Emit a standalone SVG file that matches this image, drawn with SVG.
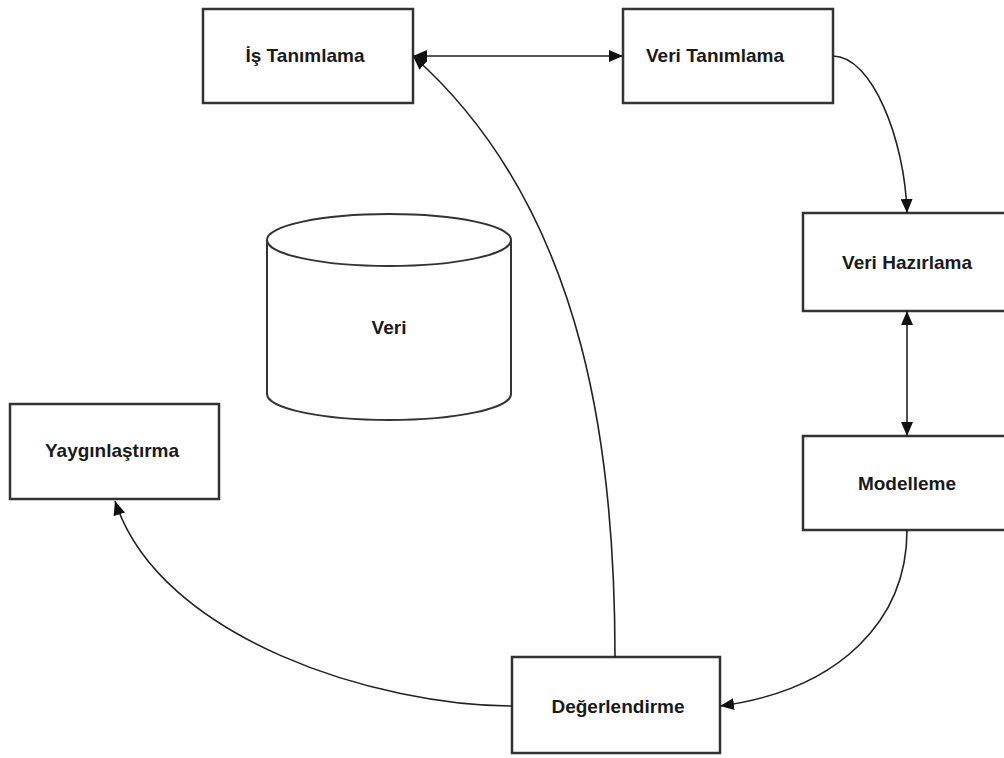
<svg xmlns="http://www.w3.org/2000/svg" width="1004" height="758" viewBox="0 0 1004 758">
  <style>
    .box { fill: #ffffff; stroke: #333333; stroke-width: 2.5; }
    .db { fill: #ffffff; stroke: #333333; stroke-width: 2; }
    .label { font-family: "Liberation Sans", Arial, sans-serif; font-weight: bold; font-size: 19px; fill: #1a1a1a; text-anchor: middle; dominant-baseline: central; }
    .link { fill: none; stroke: #222222; stroke-width: 1.6; }
  </style>
  <defs>
    <marker id="tip" viewBox="0 0 14 12" refX="14" refY="6" markerWidth="14" markerHeight="12" markerUnits="userSpaceOnUse" orient="auto-start-reverse">
      <path d="M0,0 L14,6 L0,12 Z" fill="#111111"/>
    </marker>
  </defs>

  <rect width="1004" height="758" fill="#ffffff"/>

  <g id="is-tanimlama">
    <rect class="box" x="203" y="9" width="210" height="94"/>
    <text class="label" x="305" y="55">İş Tanımlama</text>
  </g>

  <g id="veri-tanimlama">
    <rect class="box" x="623" y="9" width="210" height="94"/>
    <text class="label" x="715" y="55">Veri Tanımlama</text>
  </g>

  <g id="veri-hazirlama">
    <rect class="box" x="803" y="213" width="210" height="98"/>
    <text class="label" x="907" y="262">Veri Hazırlama</text>
  </g>

  <g id="modelleme">
    <rect class="box" x="803" y="436" width="210" height="94"/>
    <text class="label" x="907" y="483">Modelleme</text>
  </g>

  <g id="degerlendirme">
    <rect class="box" x="512" y="657" width="208" height="96"/>
    <text class="label" x="618" y="706">Değerlendirme</text>
  </g>

  <g id="yayginlastirma">
    <rect class="box" x="10" y="404" width="209" height="95"/>
    <text class="label" x="112" y="450">Yaygınlaştırma</text>
  </g>

  <g id="veri">
    <path class="db" d="M267,240 L267,394 A122,26 0 0 0 511,394 L511,240"/>
    <ellipse class="db" cx="389" cy="240" rx="122" ry="26"/>
    <text class="label" x="389" y="327">Veri</text>
  </g>

  <g id="connectors">
    <line class="link" x1="413" y1="56" x2="623" y2="56" marker-start="url(#tip)" marker-end="url(#tip)"/>
    <path class="link" d="M833,56 C872,56 905,140 907,213" marker-end="url(#tip)"/>
    <line class="link" x1="907" y1="311" x2="907" y2="436" marker-start="url(#tip)" marker-end="url(#tip)"/>
    <path class="link" d="M907,530 C907,620 840,690 720,706" marker-end="url(#tip)"/>
    <path class="link" d="M615,657 C615,470 592,215 413,56" marker-end="url(#tip)"/>
    <path class="link" d="M512,706 C380,706 160,640 115,501" marker-end="url(#tip)"/>
  </g>
</svg>
